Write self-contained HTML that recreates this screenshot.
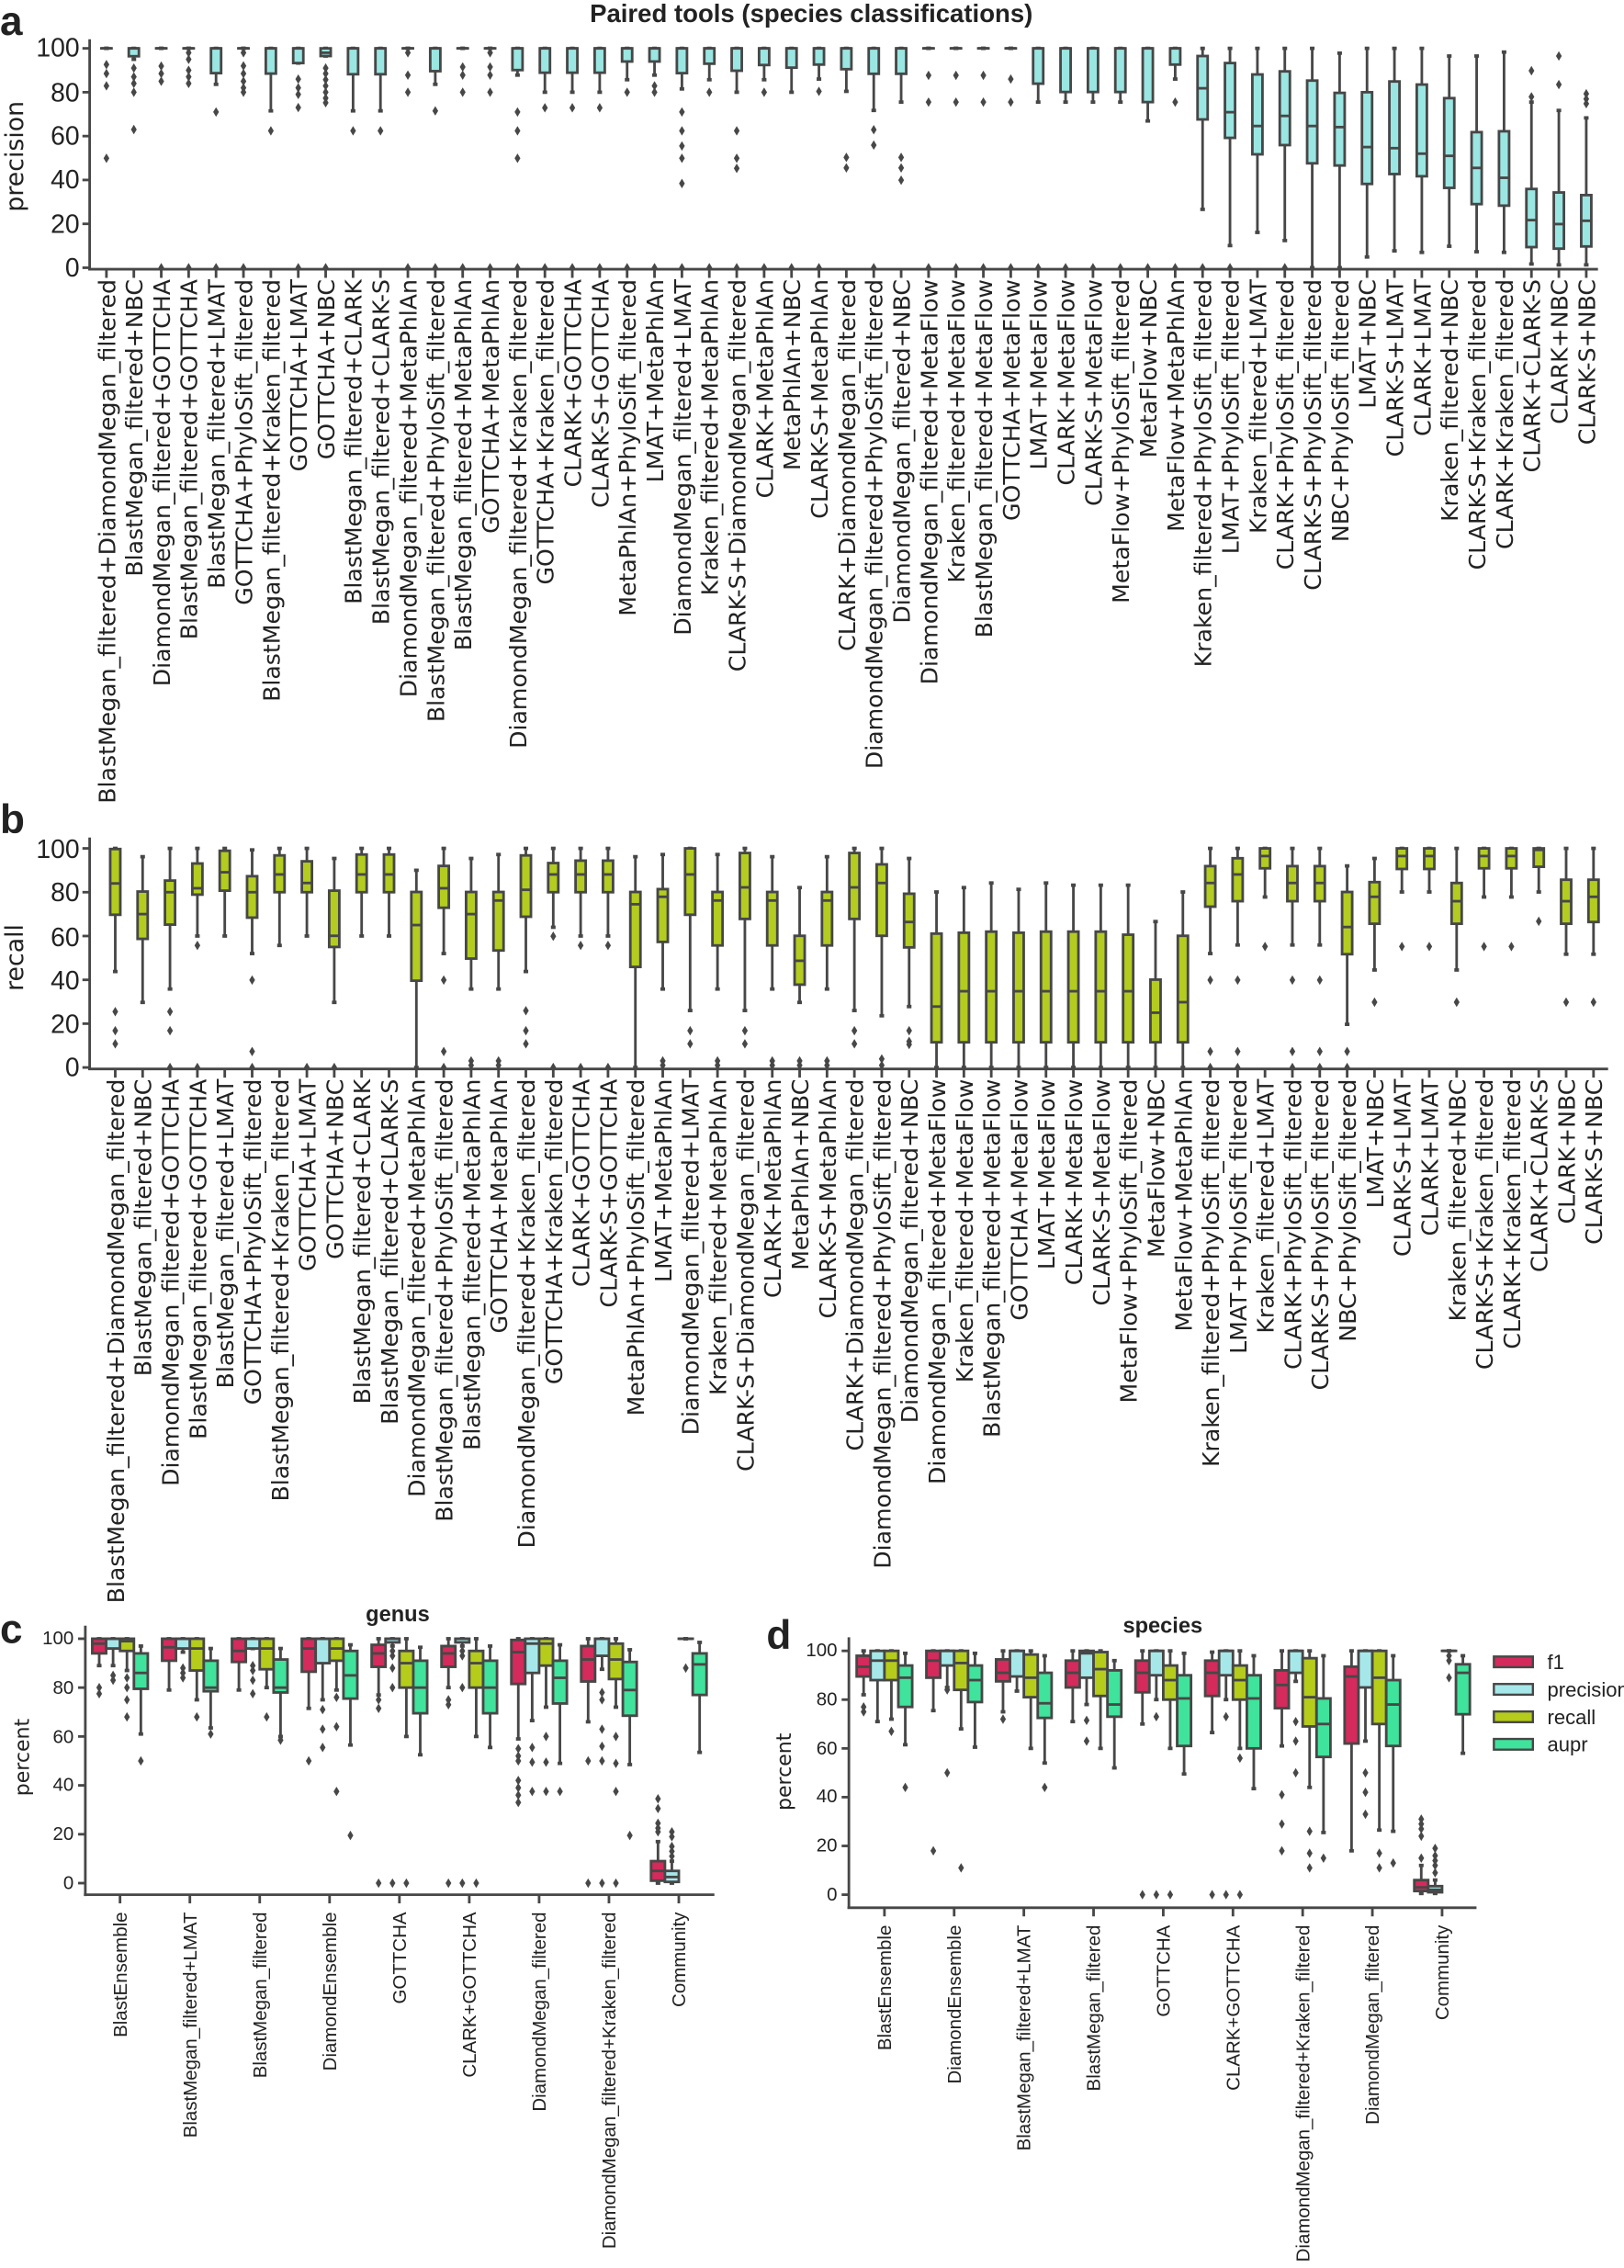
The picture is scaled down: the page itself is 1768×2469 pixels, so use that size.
<!DOCTYPE html>
<html><head><meta charset="utf-8">
<style>
html,body{margin:0;padding:0;background:#fff;}
svg{display:block;}
.t{font-family:"DejaVu Sans",sans-serif;fill:#222;}
.n{font-family:"Liberation Sans",sans-serif;fill:#222;}
</style></head>
<body>
<svg id="s" xmlns="http://www.w3.org/2000/svg" width="1768" height="2469" viewBox="0 0 1123 1568">
<rect width="1123" height="1568" fill="#fff"/>
<g id="shapes"></g>
<text class="n" x="561" y="15" font-size="17.5" font-weight="bold" text-anchor="middle">Paired tools (species classifications)</text>
<text class="n" x="0" y="24" font-size="28" font-weight="bold">a</text>
<text class="n" x="0" y="576" font-size="28" font-weight="bold">b</text>
<text class="n" x="0" y="1136" font-size="28" font-weight="bold">c</text>
<text class="n" x="530" y="1140" font-size="28" font-weight="bold">d</text>
<text class="t" font-size="17" transform="translate(16,108) rotate(-90)" text-anchor="middle">precision</text>
<text class="t" font-size="17" transform="translate(16,662) rotate(-90)" text-anchor="middle">recall</text>
<text class="t" font-size="14" transform="translate(20,1215) rotate(-90)" text-anchor="middle">percent</text>
<text class="t" font-size="14" transform="translate(547,1225) rotate(-90)" text-anchor="middle">percent</text>
<text class="n" x="275" y="1121" font-size="15" font-weight="bold" text-anchor="middle">genus</text>
<text class="n" x="804" y="1129" font-size="15" font-weight="bold" text-anchor="middle">species</text>
<g class="n" font-size="18" text-anchor="end">
<text x="55" y="39">100</text><text x="55" y="70">80</text><text x="55" y="100">60</text><text x="55" y="130">40</text><text x="55" y="161">20</text><text x="55" y="191">0</text>
<text x="55" y="593">100</text><text x="55" y="623">80</text><text x="55" y="654">60</text><text x="55" y="684">40</text><text x="55" y="714">20</text><text x="55" y="744">0</text>
</g>
<g class="n" font-size="13" text-anchor="end">
<text x="51" y="1137">100</text><text x="51" y="1171">80</text><text x="51" y="1205">60</text><text x="51" y="1238">40</text><text x="51" y="1272">20</text><text x="51" y="1306">0</text>
<text x="579" y="1145">100</text><text x="579" y="1179">80</text><text x="579" y="1213">60</text><text x="579" y="1246">40</text><text x="579" y="1280">20</text><text x="579" y="1314">0</text>
</g>
<g class="n" font-size="14">
<text x="1070" y="1154">f1</text><text x="1070" y="1173">precision</text><text x="1070" y="1192">recall</text><text x="1070" y="1211">aupr</text>
</g>
<g class="t" font-size="16" text-anchor="end">
<text transform="translate(79.6,193) rotate(-90)">BlastMegan_filtered+DiamondMegan_filtered</text>
<text transform="translate(98.5,193) rotate(-90)">BlastMegan_filtered+NBC</text>
<text transform="translate(117.5,193) rotate(-90)">DiamondMegan_filtered+GOTTCHA</text>
<text transform="translate(136.4,193) rotate(-90)">BlastMegan_filtered+GOTTCHA</text>
<text transform="translate(155.4,193) rotate(-90)">BlastMegan_filtered+LMAT</text>
<text transform="translate(174.3,193) rotate(-90)">GOTTCHA+PhyloSift_filtered</text>
<text transform="translate(193.3,193) rotate(-90)">BlastMegan_filtered+Kraken_filtered</text>
<text transform="translate(212.2,193) rotate(-90)">GOTTCHA+LMAT</text>
<text transform="translate(231.2,193) rotate(-90)">GOTTCHA+NBC</text>
<text transform="translate(250.1,193) rotate(-90)">BlastMegan_filtered+CLARK</text>
<text transform="translate(269.1,193) rotate(-90)">BlastMegan_filtered+CLARK-S</text>
<text transform="translate(288,193) rotate(-90)">DiamondMegan_filtered+MetaPhlAn</text>
<text transform="translate(307,193) rotate(-90)">BlastMegan_filtered+PhyloSift_filtered</text>
<text transform="translate(325.9,193) rotate(-90)">BlastMegan_filtered+MetaPhlAn</text>
<text transform="translate(344.9,193) rotate(-90)">GOTTCHA+MetaPhlAn</text>
<text transform="translate(363.8,193) rotate(-90)">DiamondMegan_filtered+Kraken_filtered</text>
<text transform="translate(382.8,193) rotate(-90)">GOTTCHA+Kraken_filtered</text>
<text transform="translate(401.7,193) rotate(-90)">CLARK+GOTTCHA</text>
<text transform="translate(420.7,193) rotate(-90)">CLARK-S+GOTTCHA</text>
<text transform="translate(439.6,193) rotate(-90)">MetaPhlAn+PhyloSift_filtered</text>
<text transform="translate(458.6,193) rotate(-90)">LMAT+MetaPhlAn</text>
<text transform="translate(477.5,193) rotate(-90)">DiamondMegan_filtered+LMAT</text>
<text transform="translate(496.5,193) rotate(-90)">Kraken_filtered+MetaPhlAn</text>
<text transform="translate(515.4,193) rotate(-90)">CLARK-S+DiamondMegan_filtered</text>
<text transform="translate(534.4,193) rotate(-90)">CLARK+MetaPhlAn</text>
<text transform="translate(553.3,193) rotate(-90)">MetaPhlAn+NBC</text>
<text transform="translate(572.3,193) rotate(-90)">CLARK-S+MetaPhlAn</text>
<text transform="translate(591.2,193) rotate(-90)">CLARK+DiamondMegan_filtered</text>
<text transform="translate(610.2,193) rotate(-90)">DiamondMegan_filtered+PhyloSift_filtered</text>
<text transform="translate(629.1,193) rotate(-90)">DiamondMegan_filtered+NBC</text>
<text transform="translate(648.1,193) rotate(-90)">DiamondMegan_filtered+MetaFlow</text>
<text transform="translate(667,193) rotate(-90)">Kraken_filtered+MetaFlow</text>
<text transform="translate(686,193) rotate(-90)">BlastMegan_filtered+MetaFlow</text>
<text transform="translate(704.9,193) rotate(-90)">GOTTCHA+MetaFlow</text>
<text transform="translate(723.9,193) rotate(-90)">LMAT+MetaFlow</text>
<text transform="translate(742.8,193) rotate(-90)">CLARK+MetaFlow</text>
<text transform="translate(761.8,193) rotate(-90)">CLARK-S+MetaFlow</text>
<text transform="translate(780.7,193) rotate(-90)">MetaFlow+PhyloSift_filtered</text>
<text transform="translate(799.7,193) rotate(-90)">MetaFlow+NBC</text>
<text transform="translate(818.6,193) rotate(-90)">MetaFlow+MetaPhlAn</text>
<text transform="translate(837.6,193) rotate(-90)">Kraken_filtered+PhyloSift_filtered</text>
<text transform="translate(856.5,193) rotate(-90)">LMAT+PhyloSift_filtered</text>
<text transform="translate(875.5,193) rotate(-90)">Kraken_filtered+LMAT</text>
<text transform="translate(894.4,193) rotate(-90)">CLARK+PhyloSift_filtered</text>
<text transform="translate(913.4,193) rotate(-90)">CLARK-S+PhyloSift_filtered</text>
<text transform="translate(932.3,193) rotate(-90)">NBC+PhyloSift_filtered</text>
<text transform="translate(951.3,193) rotate(-90)">LMAT+NBC</text>
<text transform="translate(970.2,193) rotate(-90)">CLARK-S+LMAT</text>
<text transform="translate(989.2,193) rotate(-90)">CLARK+LMAT</text>
<text transform="translate(1008.1,193) rotate(-90)">Kraken_filtered+NBC</text>
<text transform="translate(1027.1,193) rotate(-90)">CLARK-S+Kraken_filtered</text>
<text transform="translate(1046,193) rotate(-90)">CLARK+Kraken_filtered</text>
<text transform="translate(1065,193) rotate(-90)">CLARK+CLARK-S</text>
<text transform="translate(1083.9,193) rotate(-90)">CLARK+NBC</text>
<text transform="translate(1102.9,193) rotate(-90)">CLARK-S+NBC</text>
</g>
<g class="t" font-size="16" text-anchor="end">
<text transform="translate(85.7,746) rotate(-90)">BlastMegan_filtered+DiamondMegan_filtered</text>
<text transform="translate(104.6,746) rotate(-90)">BlastMegan_filtered+NBC</text>
<text transform="translate(123.6,746) rotate(-90)">DiamondMegan_filtered+GOTTCHA</text>
<text transform="translate(142.5,746) rotate(-90)">BlastMegan_filtered+GOTTCHA</text>
<text transform="translate(161.4,746) rotate(-90)">BlastMegan_filtered+LMAT</text>
<text transform="translate(180.4,746) rotate(-90)">GOTTCHA+PhyloSift_filtered</text>
<text transform="translate(199.3,746) rotate(-90)">BlastMegan_filtered+Kraken_filtered</text>
<text transform="translate(218.2,746) rotate(-90)">GOTTCHA+LMAT</text>
<text transform="translate(237.1,746) rotate(-90)">GOTTCHA+NBC</text>
<text transform="translate(256.1,746) rotate(-90)">BlastMegan_filtered+CLARK</text>
<text transform="translate(275,746) rotate(-90)">BlastMegan_filtered+CLARK-S</text>
<text transform="translate(293.9,746) rotate(-90)">DiamondMegan_filtered+MetaPhlAn</text>
<text transform="translate(312.9,746) rotate(-90)">BlastMegan_filtered+PhyloSift_filtered</text>
<text transform="translate(331.8,746) rotate(-90)">BlastMegan_filtered+MetaPhlAn</text>
<text transform="translate(350.7,746) rotate(-90)">GOTTCHA+MetaPhlAn</text>
<text transform="translate(369.7,746) rotate(-90)">DiamondMegan_filtered+Kraken_filtered</text>
<text transform="translate(388.6,746) rotate(-90)">GOTTCHA+Kraken_filtered</text>
<text transform="translate(407.5,746) rotate(-90)">CLARK+GOTTCHA</text>
<text transform="translate(426.4,746) rotate(-90)">CLARK-S+GOTTCHA</text>
<text transform="translate(445.4,746) rotate(-90)">MetaPhlAn+PhyloSift_filtered</text>
<text transform="translate(464.3,746) rotate(-90)">LMAT+MetaPhlAn</text>
<text transform="translate(483.2,746) rotate(-90)">DiamondMegan_filtered+LMAT</text>
<text transform="translate(502.2,746) rotate(-90)">Kraken_filtered+MetaPhlAn</text>
<text transform="translate(521.1,746) rotate(-90)">CLARK-S+DiamondMegan_filtered</text>
<text transform="translate(540,746) rotate(-90)">CLARK+MetaPhlAn</text>
<text transform="translate(559,746) rotate(-90)">MetaPhlAn+NBC</text>
<text transform="translate(577.9,746) rotate(-90)">CLARK-S+MetaPhlAn</text>
<text transform="translate(596.8,746) rotate(-90)">CLARK+DiamondMegan_filtered</text>
<text transform="translate(615.7,746) rotate(-90)">DiamondMegan_filtered+PhyloSift_filtered</text>
<text transform="translate(634.7,746) rotate(-90)">DiamondMegan_filtered+NBC</text>
<text transform="translate(653.6,746) rotate(-90)">DiamondMegan_filtered+MetaFlow</text>
<text transform="translate(672.5,746) rotate(-90)">Kraken_filtered+MetaFlow</text>
<text transform="translate(691.5,746) rotate(-90)">BlastMegan_filtered+MetaFlow</text>
<text transform="translate(710.4,746) rotate(-90)">GOTTCHA+MetaFlow</text>
<text transform="translate(729.3,746) rotate(-90)">LMAT+MetaFlow</text>
<text transform="translate(748.3,746) rotate(-90)">CLARK+MetaFlow</text>
<text transform="translate(767.2,746) rotate(-90)">CLARK-S+MetaFlow</text>
<text transform="translate(786.1,746) rotate(-90)">MetaFlow+PhyloSift_filtered</text>
<text transform="translate(805,746) rotate(-90)">MetaFlow+NBC</text>
<text transform="translate(824,746) rotate(-90)">MetaFlow+MetaPhlAn</text>
<text transform="translate(842.9,746) rotate(-90)">Kraken_filtered+PhyloSift_filtered</text>
<text transform="translate(861.8,746) rotate(-90)">LMAT+PhyloSift_filtered</text>
<text transform="translate(880.8,746) rotate(-90)">Kraken_filtered+LMAT</text>
<text transform="translate(899.7,746) rotate(-90)">CLARK+PhyloSift_filtered</text>
<text transform="translate(918.6,746) rotate(-90)">CLARK-S+PhyloSift_filtered</text>
<text transform="translate(937.6,746) rotate(-90)">NBC+PhyloSift_filtered</text>
<text transform="translate(956.5,746) rotate(-90)">LMAT+NBC</text>
<text transform="translate(975.4,746) rotate(-90)">CLARK-S+LMAT</text>
<text transform="translate(994.3,746) rotate(-90)">CLARK+LMAT</text>
<text transform="translate(1013.3,746) rotate(-90)">Kraken_filtered+NBC</text>
<text transform="translate(1032.2,746) rotate(-90)">CLARK-S+Kraken_filtered</text>
<text transform="translate(1051.1,746) rotate(-90)">CLARK+Kraken_filtered</text>
<text transform="translate(1070.1,746) rotate(-90)">CLARK+CLARK-S</text>
<text transform="translate(1089,746) rotate(-90)">CLARK+NBC</text>
<text transform="translate(1107.9,746) rotate(-90)">CLARK-S+NBC</text>
</g>
<g class="n" font-size="13" text-anchor="end">
<text transform="translate(87.5,1322) rotate(-90)">BlastEnsemble</text>
<text transform="translate(135.8,1322) rotate(-90)">BlastMegan_filtered+LMAT</text>
<text transform="translate(184.1,1322) rotate(-90)">BlastMegan_filtered</text>
<text transform="translate(232.4,1322) rotate(-90)">DiamondEnsemble</text>
<text transform="translate(280.7,1322) rotate(-90)">GOTTCHA</text>
<text transform="translate(329,1322) rotate(-90)">CLARK+GOTTCHA</text>
<text transform="translate(377.3,1322) rotate(-90)">DiamondMegan_filtered</text>
<text transform="translate(425.6,1322) rotate(-90)">DiamondMegan_filtered+Kraken_filtered</text>
<text transform="translate(473.9,1322) rotate(-90)">Community</text>
<text transform="translate(616.1,1331) rotate(-90)">BlastEnsemble</text>
<text transform="translate(664.3,1331) rotate(-90)">DiamondEnsemble</text>
<text transform="translate(712.5,1331) rotate(-90)">BlastMegan_filtered+LMAT</text>
<text transform="translate(760.7,1331) rotate(-90)">BlastMegan_filtered</text>
<text transform="translate(808.9,1331) rotate(-90)">GOTTCHA</text>
<text transform="translate(857.1,1331) rotate(-90)">CLARK+GOTTCHA</text>
<text transform="translate(905.3,1331) rotate(-90)">DiamondMegan_filtered+Kraken_filtered</text>
<text transform="translate(953.5,1331) rotate(-90)">DiamondMegan_filtered</text>
<text transform="translate(1001.7,1331) rotate(-90)">Community</text>
</g>
</svg>
<script>
(function(){
var g=document.getElementById('shapes'),NS='http://www.w3.org/2000/svg',S='#474747';
var out='';
function line(x1,y1,x2,y2,w){out+='<line x1="'+x1+'" y1="'+y1+'" x2="'+x2+'" y2="'+y2+'" stroke="'+S+'" stroke-width="'+(w||1.8)+'"/>';}
function dia(x,y){out+='<path d="M'+x+' '+(y-3.3)+'L'+(x+2)+' '+y+'L'+x+' '+(y+3.3)+'L'+(x-2)+' '+y+'Z" fill="'+S+'"/>';}
function box(x,w,d,Y,fill){
  var q1=d[0],md=d[1],q3=d[2],lo=d[3],hi=d[4],fl=d[5]||[];
  line(x,Y(hi),x,Y(q3));line(x,Y(q1),x,Y(lo));
  line(x-1.6,Y(hi),x+1.6,Y(hi),2.4);line(x-1.6,Y(lo),x+1.6,Y(lo),2.4);
  var h=Y(q1)-Y(q3);
  out+='<rect x="'+(x-w/2)+'" y="'+Y(q3)+'" width="'+w+'" height="'+Math.max(h,0.01)+'" fill="'+fill+'" stroke="'+S+'" stroke-width="1.8"/>';
  line(x-w/2,Y(md),x+w/2,Y(md));
  fl.forEach(function(v){dia(x,Y(v));});
}
var A=[[100,100,100,100,100,[92.6,88.5,82.9,49.9]],[96.4,100,100,95,100,[91,87,84,80,63]],[100,100,100,100,100,[91.9,88.5,85,0]],[100,100,100,100,100,[98,95,90,87,84,0]],[88.7,100,100,83.6,100,[71,0]],[100,100,100,100,100,[98,92,88.5,85,82,80,0]],[88.5,100,100,71.5,100,[62.4]],[93.3,100,100,93.3,100,[86,82,79,73,0]],[96.5,98,100,96.5,100,[91,88.5,85.7,82.9,80,77.3,75.2,0]],[88.2,100,100,71.5,100,[62.4]],[88.2,100,100,71.5,100,[62.4]],[100,100,100,100,100,[98,87.8,80,0]],[89.6,100,100,83.6,100,[71.5,0]],[100,100,100,100,100,[91.5,87.8,80,0]],[100,100,100,100,100,[98,91.5,87.8,80,0]],[90.1,100,100,87.8,100,[71,62.4,49.9,0]],[88.9,100,100,80,100,[72.9,0]],[88.9,100,100,80,100,[72.9,0]],[88.9,100,100,80,100,[72.9,0]],[94,100,100,85.7,100,[80,0]],[94,100,100,87.8,100,[82.9,80,0]],[88.7,100,100,81.5,100,[71,62.4,55.5,49.9,38.4,0]],[93,100,100,85.7,100,[80,0]],[89.8,100,100,80,100,[62.4,49.9,45.3,0]],[92.4,100,100,85.7,100,[80,0]],[91.2,100,100,80,100,[0]],[92.6,100,100,86,100,[80.4,0]],[90.5,100,100,80.4,100,[50.3,45.5]],[88.4,100,100,71.7,100,[62.9,55.9,0]],[88.4,100,100,75.5,100,[50.3,45.5,39.9]],[100,100,100,100,100,[87.7,75.5,0]],[100,100,100,100,100,[87.7,75.5,0]],[100,100,100,100,100,[87.7,75.5,0]],[100,100,100,100,100,[86,75.5,0]],[83.9,100,100,75.5,100,[0]],[80.1,100,100,75.5,100,[0]],[80.1,100,100,75.5,100,[0]],[80.1,100,100,75.5,100,[0]],[75.5,100,100,66.9,100,[0]],[92.6,100,100,86,100,[75.5,0]],[67.6,81.8,96.5,26.6,100,[0]],[59.2,70.9,93.3,10.1,100,[0]],[51.7,64.6,88.1,16.1,100,[]],[55.9,69.2,89.5,12.4,100,[0]],[47.6,64.6,85.3,0,100,[]],[46.6,64.1,79.7,0,97.8,[]],[38.2,55,80,4.9,100,[]],[42.7,54.5,84.9,7.7,100,[]],[41.7,52,83.5,7,100,[]],[36.4,51,77.3,9.8,96.5,[]],[29,45.5,61.8,7.3,96.5,[]],[28.3,41,62.2,7,98.3,[]],[9.4,21.7,35.9,1.7,75.5,[89.8,77.9]],[8.7,19.9,34.3,1.3,71.7,[96.5,83.5]],[9.7,21.4,33.1,1.3,68.3,[79.3,76.9,74.8]]];
var B=[[69.7,84,99.7,43.8,100,[25.5,16.8,10.8]],[58.7,70,80.3,29.7,96.2,[]],[65.2,80,85.3,35.8,100,[25.5,16.8,0]],[78.9,81.8,93.1,60,100,[55.7,0]],[80.7,89.1,98.9,60,100,[]],[68.4,80,87.3,52,99.3,[39.9,7.3,0]],[80,88.1,96.8,55.7,100,[]],[80,84.2,94.1,60,100,[0]],[55,60.1,80.7,29.7,95.4,[0]],[80,88.1,97.2,60,100,[]],[80,88.1,97.2,60,100,[]],[39.6,65,80.1,0,90,[]],[72.9,81.8,92,52,100,[39.9,7.3,0]],[49.7,70,80.1,35.8,95.4,[3,1]],[53.4,76.2,80.1,35.8,97.2,[3,1]],[68.8,81.1,96.8,43.8,100,[25.9,16.8,10.8]],[80,88.1,93.3,64,100,[59.9,0]],[80,88.1,94.4,60,100,[55.7,0]],[80,88.1,94.4,60,100,[55.7,0]],[45.9,74.5,80.1,0,96.2,[]],[57.3,77.9,81.4,35.8,97.2,[3,1]],[69.7,88.1,100,26,100,[16.8,10.8]],[55.7,76.2,80.1,35.8,97.2,[3,1]],[67.8,82.2,97.9,26,100,[16.8,10.8]],[55.7,76.2,80.1,35.8,96.2,[3,1]],[37.8,48.7,60.1,29.7,82.1,[3,1]],[55.7,76.2,80.1,35.8,96.2,[3,1]],[67.8,82.2,97.9,26,100,[16.8,10.8]],[60.1,84.2,92.7,23.6,100,[3.9,1]],[54.8,66.4,79.3,27.8,95.4,[16.8,11.9,10.5]],[11.5,27.8,61.1,0,80.1,[]],[11.5,34.8,61.5,0,82.1,[]],[11.5,34.8,62,0,84.2,[]],[11.5,34.8,61.5,0,81.3,[]],[11.5,34.8,62,0,84.2,[]],[11.5,34.8,62,0,83.2,[]],[11.5,34.8,62,0,83.2,[]],[11.5,34.8,60.6,0,83.2,[]],[11.5,25,40.1,0,66.6,[]],[11.5,29.8,60.1,0,80.1,[]],[73.4,84.2,91.9,52,100,[39.9,7.3,0]],[75.9,88.1,95.5,55.9,100,[39.9,7.3,0]],[90.9,96.5,100,77.8,100,[55.2]],[75.9,84.2,91.9,55.9,100,[39.9,7.3,0]],[75.9,84.2,91.9,55.9,100,[39.9,7.3,0]],[51.7,64.1,80.1,19.7,92,[7.3,0]],[65.6,77.9,84.6,44.5,95.4,[29.8]],[90.6,96.5,100,80.1,100,[55.2]],[90.6,96.5,100,80.1,100,[55.2]],[65.6,75.9,84.2,44.5,100,[29.8]],[90.9,96.5,100,77.8,100,[55.2]],[90.9,96.5,100,77.8,100,[55.2]],[91.6,99.3,100,80.1,100,[66.7]],[65.6,75.9,85.7,51.7,100,[29.8]],[66.4,77.9,85.7,51.7,100,[29.8]]];
// panel a
var YA=function(v){return 185-1.517*v;},YB=function(v){return 738-1.515*v;};
line(62,27,62,186.5);line(61,186,1105,186);
[0,20,40,60,80,100].forEach(function(v){line(57,YA(v),62,YA(v));line(57,YB(v),62,YB(v));});
line(62,579,62,739.5);line(61,739,1112,739);
A.forEach(function(d,i){var x=73.6+18.95*i;line(x,186,x,192);box(x,7,d,YA,'#9ae6e2');});
B.forEach(function(d,i){var x=79.7+18.93*i;line(x,739,x,745);box(x,7,d,YB,'#b3cc1f');});
var COL=['#d42a5c','#a6e8ea','#b5cc1a','#3fe39b'],OFF=[-14.4,-4.8,4.8,14.4];
var C=[
[[94,98,100,89,100,[80,77.5]],[96,100,100,89,100,[85,83]],[95,99,100,87,100,[84,80,75,68]],[79.5,86,94,61,97,[50]]],
[[91,96.5,100,79,100,[]],[96,100,100,94.5,100,[88,86,84]],[87,96,100,75,100,[68]],[78.5,80,91,63.5,96,[61]]],
[[90.5,95,100,79,100,[]],[96,100,100,96,100,[89,87,83,77.5]],[87.5,96,100,80,100,[68]],[78,80,91.5,60,96,[58.5]]],
[[86.5,96,100,71.5,100,[50]],[90,100,100,75,100,[71,63,55.5]],[91,96,100,79,100,[76,64,37.5]],[75.5,85,95,56.5,97.5,[19.5]]],
[[88.5,94,97.5,77,100,[75,71.5,0]],[98.5,100,100,97,100,[95,93,88,80,0]],[80,90,95,60,100,[0]],[69.5,80,91,52.5,96.5,[]]],
[[88.5,94,97,80,100,[75,73,0]],[98.5,100,100,97,100,[95,93,80,0]],[80,90,95,60,100,[0]],[69.5,80,91,55.5,97,[]]],
[[81.5,94.5,99.5,59,100,[55,52,50,42,39,36,33]],[86,98,100,66.5,100,[55.5,49.5,37.5]],[89,98,100,72,100,[60,49.5,37.5]],[73.5,84,91,49,97.5,[37.5]]],
[[82.5,91.5,97,66,100,[50,0]],[93,100,100,87.5,100,[78,75,63,56,50,0]],[83.5,91.5,98,72,100,[60,49,37.5,0]],[68.5,79,90.5,48.5,95.5,[19.5]]],
[[1,5,9,0,17,[21,22.5,24.5,30.5,34.5]],[0.5,2.5,5,0,9,[11,13,15,19,21]],[100,100,100,100,100,[88]],[77,89.5,94,53.5,98.5,[]]]];
var D=[
[[89.5,93.5,98,82,100,[77,75]],[88,96,100,71,100,[]],[88,96,100,72,100,[67]],[77,89,94,61.5,99,[44]]],
[[89,96,100,75.5,100,[18]],[94,100,100,85,100,[84,50]],[84,95,100,68,100,[11]],[79,88,94,60.5,99,[]]],
[[87.5,91,96.5,75,100,[72]],[89.5,100,100,83.5,100,[]],[81,89,98.5,60,100,[]],[72.5,78.5,91,54,98,[44]]],
[[85,91,96,71,100,[]],[89,99,100,78,100,[71.5,63]],[81.5,92.5,99.5,60,100,[]],[73,78,92,52,96,[]]],
[[83,91,96,70,100,[0]],[90,100,100,80,100,[73,0]],[80,88,94,60,100,[0]],[61,80.5,90,49.5,99,[]]],
[[81.5,91,96,66.5,99.5,[0]],[90,100,100,80,100,[73,0]],[80,88,94,60,100,[56,0]],[60,80.5,90,43.5,98,[]]],
[[76.5,86,92,61,100,[41,29,18]],[91,100,100,87.5,100,[71,63,50]],[69,81,97,44,100,[26,17,11]],[56.5,70,80.5,25.5,98,[15]]],
[[62,89.5,93.5,18,100,[]],[85,100,100,63,100,[50,42,33]],[70,89,100,26.5,100,[17,11]],[61,78,88,26,98,[13]]],
[[1.5,3,6,0.5,12,[15,24,27,29,31]],[1,2,3.5,0.5,6,[9,12,14,16,19]],[100,100,100,100,100,[98,96,89]],[74,91,94.5,58,98,[]]]];
var YC=function(v){return 1302-1.69*v;},YD=function(v){return 1310-1.686*v;};
line(59,1124,59,1311);line(58,1310,494,1310);
line(587,1132,587,1319.5);line(586,1319,1021,1319);
[0,20,40,60,80,100].forEach(function(v){line(54,YC(v),59,YC(v));line(582,YD(v),587,YD(v));});
C.forEach(function(gp,i){var cx=83+48.3*i;line(cx,1310,cx,1316);gp.forEach(function(d,j){box(cx+OFF[j],9.6,d,YC,COL[j]);});});
D.forEach(function(gp,i){var cx=611.6+48.2*i;line(cx,1319,cx,1325);gp.forEach(function(d,j){box(cx+OFF[j],9.6,d,YD,COL[j]);});});
[1149,1168,1187,1206].forEach(function(y,j){out+='<rect x="1033" y="'+(y-3.7)+'" width="27" height="7.4" fill="'+COL[j]+'" stroke="'+S+'" stroke-width="1.5"/>';});
g.innerHTML=out;
})();
</script>
</body></html>
